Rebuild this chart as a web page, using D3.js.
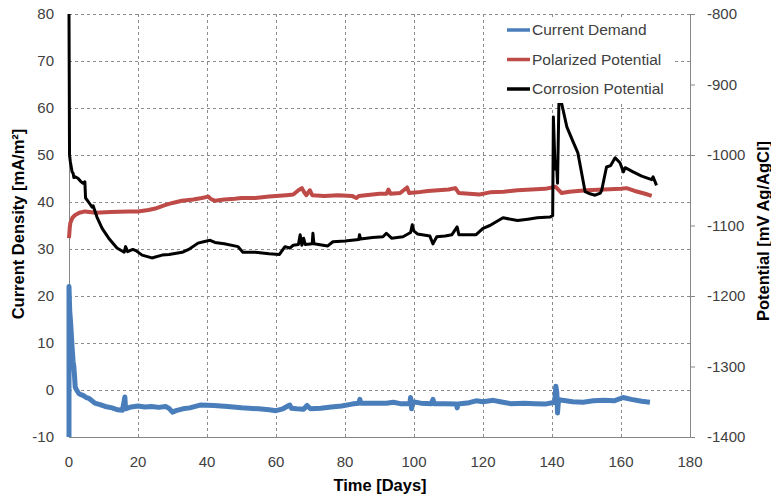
<!DOCTYPE html>
<html>
<head>
<meta charset="utf-8">
<script src="https://cdn.jsdelivr.net/npm/d3@7"></script>
<style>
  body { margin: 0; background: #fff; }
  svg { font-family: "Liberation Sans", "Open Sans", sans-serif; }
</style>
</head>
<body>
<div id="chart"></div>
<script>
// ---- data ----
const demandDays = [0,0,0.2,0.5,0.9,1.2,1.4,1.6,1.8,2.2,2.9,3.5,4.2,5,5.8,6.5,7.5,9,10.5,12.5,14,15.5,16.2,16.4,18,20,22,24,26,28,29,30,31,33,35,38,42,46,50,55,58,60,62,64,64.5,66,68,69,70,73,76,79,82,84,84.3,84.6,88,92,94,96,98.8,99,99.3,99.6,102,105,105.5,105.8,109,112.3,112.5,112.8,116,118,120,123,125,128,132,135,138,140.8,141.1,141.4,141.6,141.9,143,146,149,152,155,158,160.6,163,166,168.4];
const demandValues = [-10,22,17,14,9,6,5,3,0.6,0,-0.8,-1,-1.2,-1.6,-1.8,-2.2,-2.8,-3.1,-3.5,-3.8,-4.2,-4.3,-1.5,-4,-3.6,-3.4,-3.6,-3.5,-3.7,-3.5,-3.9,-4.7,-4.4,-4,-3.8,-3.2,-3.3,-3.5,-3.8,-4,-4.2,-4.4,-4,-3.2,-3.9,-4,-4.1,-3.3,-4,-3.9,-3.6,-3.4,-3,-2.8,-2,-2.8,-2.8,-2.8,-2.6,-2.9,-2.9,-1.6,-4,-2.5,-2.8,-2.9,-2,-2.9,-2.9,-3,-3.8,-3,-2.7,-2.3,-2.5,-2.2,-2.5,-2.9,-2.8,-2.9,-3,-2.6,0.8,-0.5,-4.9,-2,-2.2,-2.5,-2.6,-2.3,-2.2,-2.3,-1.6,-2,-2.4,-2.6];

const polarizedDays = [0,0.2,0.4,1,1.8,3,4.7,7.6,12,17.3,20,23,25,27.8,30,32.7,36,38.5,40.4,41,42.3,45,48,50,54,58,63,65,66.5,67.5,68.3,68.8,69.8,70.5,74,78,82,83.3,84,86,90,92,92.6,93.2,96,98,98.6,101,104,107,110,112,113,116,119,122,126,130,134,138,141,142.8,145,150,155,160,161.6,164,167,168.9];
const polarizedValues = [-1118,-1104,-1096,-1089,-1085,-1082,-1080,-1082,-1081,-1080,-1080,-1078,-1076,-1071,-1068,-1065,-1063,-1061,-1059,-1062,-1065,-1063,-1062,-1061,-1061,-1059,-1057,-1056,-1050,-1047,-1054,-1057,-1050,-1057,-1058,-1057,-1058,-1061,-1058,-1057,-1055,-1055,-1049,-1055,-1054,-1046,-1054,-1053,-1051,-1050,-1049,-1047,-1054,-1055,-1056,-1053,-1052,-1050,-1049,-1048,-1045,-1054,-1052,-1050,-1049,-1048,-1047,-1051,-1055,-1058];

const corrosionDays = [0,0.15,0.4,0.9,1.2,1.4,1.8,2.6,3.3,4,4.6,4.7,4.8,5.7,6.7,7,8.1,9.6,11.5,13.9,16,16.4,17,18.5,19.5,21.2,24,27,29,32.8,35,37.4,39,40.9,42.3,45,49,50.4,54,58,61,62.6,64,65,66.5,67,67.5,68,68.5,70.5,70.7,71,75,76.5,80,84,84.2,84.5,88,91,92,93.5,96.8,99,99.5,100,101,104.6,105.5,106.6,109,111,112.5,113,118,120,122,125.8,130,133,135.7,139.4,140.2,140.4,140.9,141.3,141.6,142,142.8,144.3,146,147.5,148.6,149.6,151,152.5,154,154.4,155.8,157,158.3,159.7,160.7,161.2,163.5,166,168.9,169.3,170.3];
const corrosionValues = [-800,-1000,-1010,-1024,-1026,-1032,-1031,-1033,-1037,-1040,-1038,-1050,-1061,-1067,-1074,-1072,-1088,-1104,-1118,-1132,-1138,-1130,-1137,-1134,-1136,-1142,-1146,-1142,-1141,-1138,-1133,-1125,-1123,-1121,-1124,-1126,-1130,-1138,-1138,-1140,-1141,-1130,-1132,-1128,-1127,-1113,-1128,-1118,-1127,-1126,-1111,-1126,-1129,-1123,-1122,-1120,-1113,-1119,-1117,-1116,-1111,-1118,-1116,-1110,-1099,-1108,-1112,-1115,-1126,-1116,-1115,-1113,-1102,-1113,-1113,-1104,-1100,-1089,-1093,-1091,-1089,-1088,-1086,-946,-1020,-1010,-1040,-927,-927,-960,-980,-997,-1026,-1052,-1055,-1057,-1054,-1050,-1017,-1015,-1004,-1011,-1024,-1018,-1024,-1030,-1035,-1031,-1043];

const seriesNames = ["Current Demand", "Polarized Potential", "Corrosion Potential"];
const seriesColors = ["#4a7ebb", "#be4b48", "#000000"];
const xTicks = [0, 20, 40, 60, 80, 100, 120, 140, 160, 180];
const leftTicks = [-10, 0, 10, 20, 30, 40, 50, 60, 70, 80];
const rightTicks = [-1400, -1300, -1200, -1100, -1000, -900, -800];

// ---- layout ----
const width = 771, height = 498;
const margin = { top: 14, right: 81, bottom: 61, left: 69 };
const innerW = width - margin.left - margin.right;
const innerH = height - margin.top - margin.bottom;

const svg = d3.select("#chart").append("svg")
  .attr("width", width)
  .attr("height", height);

const g = svg.append("g")
  .attr("transform", `translate(${margin.left},${margin.top})`);

const x = d3.scaleLinear().domain([0, 180]).range([0, innerW]);
const yL = d3.scaleLinear().domain([-10, 80]).range([innerH, 0]);
const yR = d3.scaleLinear().domain([-1400, -800]).range([innerH, 0]);

const gridColor = "#8c8c8c";
const axisColor = "#868686";
const labelColor = "#404040";

// gridlines
g.selectAll(".hgrid").data(leftTicks.filter(t => t > -10)).join("line")
  .attr("x1", 0).attr("x2", innerW)
  .attr("y1", d => yL(d) + 0.5).attr("y2", d => yL(d) + 0.5)
  .attr("stroke", gridColor).attr("stroke-width", 1)
  .attr("stroke-dasharray", "3,3");

g.selectAll(".vgrid").data(xTicks.filter(t => t > 0 && t < 180)).join("line")
  .attr("x1", d => Math.round(x(d)) + 0.5).attr("x2", d => Math.round(x(d)) + 0.5)
  .attr("y1", 0).attr("y2", innerH)
  .attr("stroke", gridColor).attr("stroke-width", 1)
  .attr("stroke-dasharray", "3,3");

// axis lines
g.append("line").attr("x1", 0.5).attr("x2", 0.5).attr("y1", 0).attr("y2", innerH)
  .attr("stroke", axisColor);
g.append("line").attr("x1", 0).attr("x2", innerW).attr("y1", innerH + 0.5).attr("y2", innerH + 0.5)
  .attr("stroke", axisColor);
g.append("line").attr("x1", innerW + 0.5).attr("x2", innerW + 0.5).attr("y1", 0).attr("y2", innerH)
  .attr("stroke", axisColor);

// right ticks
g.selectAll(".rtick").data(rightTicks).join("line")
  .attr("x1", innerW).attr("x2", innerW + 5)
  .attr("y1", d => yR(d) + 0.5).attr("y2", d => yR(d) + 0.5)
  .attr("stroke", axisColor);

// tick labels
const tickFont = "15px";
g.selectAll(".ltext").data(leftTicks).join("text")
  .attr("x", -15).attr("y", d => yL(d))
  .attr("dy", "0.35em")
  .attr("text-anchor", "end")
  .style("font-size", tickFont).style("fill", labelColor)
  .text(d => d);

g.selectAll(".rtext").data(rightTicks).join("text")
  .attr("x", innerW + 17).attr("y", d => yR(d))
  .attr("dy", "0.35em")
  .attr("text-anchor", "start")
  .style("font-size", tickFont).style("fill", labelColor)
  .text(d => d);

g.selectAll(".xtext").data(xTicks).join("text")
  .attr("x", d => x(d)).attr("y", innerH + 25)
  .attr("dy", "0.35em")
  .attr("text-anchor", "middle")
  .style("font-size", tickFont).style("fill", labelColor)
  .text(d => d);

// axis titles
svg.append("text")
  .attr("transform", `translate(24,224) rotate(-90)`)
  .attr("text-anchor", "middle")
  .style("font-size", "16.5px").style("font-weight", "bold").style("fill", "#000")
  .text("Current Density [mA/m²]");

svg.append("text")
  .attr("transform", `translate(769,231) rotate(-90)`)
  .attr("text-anchor", "middle")
  .style("font-size", "16.5px").style("font-weight", "bold").style("fill", "#000")
  .text("Potential [mV Ag/AgCl]");

svg.append("text")
  .attr("x", 380).attr("y", 491)
  .attr("text-anchor", "middle")
  .style("font-size", "16.5px").style("font-weight", "bold").style("fill", "#000")
  .text("Time [Days]");

// ---- lines ----
const demandLine = d3.line().x(d => x(d[0])).y(d => yL(d[1]));
const potLine = d3.line().x(d => x(d[0])).y(d => yR(d[1]));

g.append("path")
  .datum(d3.zip(demandDays, demandValues))
  .attr("d", demandLine)
  .attr("fill", "none").attr("stroke", seriesColors[0])
  .attr("stroke-width", 5).attr("stroke-linejoin", "round");

g.append("path")
  .datum(d3.zip(polarizedDays, polarizedValues))
  .attr("d", potLine)
  .attr("fill", "none").attr("stroke", seriesColors[1])
  .attr("stroke-width", 4).attr("stroke-linejoin", "round");

g.append("path")
  .datum(d3.zip(corrosionDays, corrosionValues))
  .attr("d", potLine)
  .attr("fill", "none").attr("stroke", seriesColors[2])
  .attr("stroke-width", 3).attr("stroke-linejoin", "round");

// ---- legend ----
const legend = svg.append("g");
legend.append("rect")
  .attr("x", 487).attr("y", 17).attr("width", 188).attr("height", 86)
  .attr("fill", "#fff");

seriesNames.forEach((name, i) => {
  const ly = 30 + i * 29.5;
  legend.append("line")
    .attr("x1", 507).attr("x2", 530).attr("y1", ly).attr("y2", ly)
    .attr("stroke", seriesColors[i]).attr("stroke-width", 3.5);
  legend.append("text")
    .attr("x", 532).attr("y", ly).attr("dy", "0.35em")
    .style("font-size", "15.5px").style("fill", labelColor)
    .text(name);
});
</script>
</body>
</html>
